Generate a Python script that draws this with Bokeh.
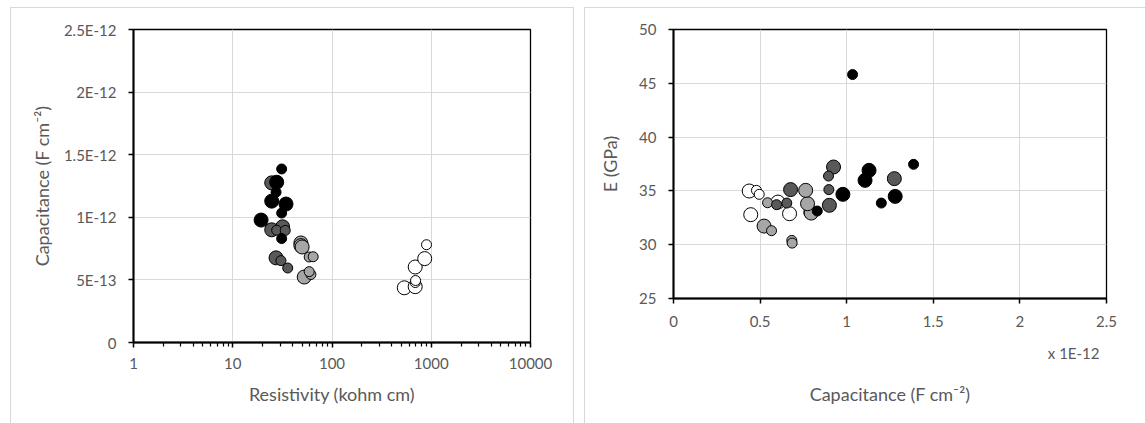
from bokeh.plotting import figure
from bokeh.models import FixedTicker, NumeralTickFormatter, Title
from bokeh.embed import file_html
from bokeh.resources import INLINE

# ---- data (capacitance in units of 1E-12 F cm^-2, resistivity kohm cm, E GPa) ----
# marker class: "L" = large marker series, "S" = small marker series
white_cap = [0.437, 0.446, 0.479, 0.495, 0.603, 0.670, 0.781]
white_res = [535, 689, 690, 695, 689, 859, 896]
white_E   = [34.99, 32.79, 35.05, 34.68, 33.96, 32.88, 33.0]
white_cls = ["L", "L", "S", "S", "L", "L", "S"]

light_cap = [0.795, 0.774, 0.763, 0.523, 0.543, 0.566, 0.683, 0.685]
light_res = [48.6, 48.6, 50.0, 52.5, 61.3, 58.9, 58.9, 64.6]
light_E   = [32.94, 33.81, 35.05, 31.73, 33.90, 31.30, 30.40, 30.15]
light_cls = ["L", "L", "L", "L", "S", "S", "S", "S"]

dark_cap = [1.275, 0.924, 0.900, 0.897, 0.895, 0.676, 0.654, 0.595]
dark_res = [24.7, 31.8, 24.7, 27.7, 33.8, 27.3, 30.6, 35.8]
dark_E   = [36.14, 37.22, 33.66, 35.12, 36.38, 35.12, 33.87, 33.72]
dark_cls = ["L", "L", "L", "S", "S", "L", "S", "S"]

black_cap = [1.386, 1.280, 1.200, 1.129, 1.106, 1.034, 0.978, 0.830]
black_res = [31.1, 27.7, 27.3, 24.7, 34.4, 31.1, 19.3, 31.1]
black_E   = [37.47, 34.49, 33.87, 36.91, 35.98, 45.81, 34.68, 33.13]
black_cls = ["S", "L", "S", "L", "L", "S", "L", "S"]

left_y_ticks = [0, 0.5, 1, 1.5, 2, 2.5]
left_y_labels = ["0", "5E-13", "1E-12", "1.5E-12", "2E-12", "2.5E-12"]
left_x_ticks = [1, 10, 100, 1000, 10000]
right_x_ticks = [0, 0.5, 1, 1.5, 2, 2.5]
right_y_ticks = [25, 30, 35, 40, 45, 50]

series = [
    ("#ffffff", white_cap, white_res, white_E, white_cls),
    ("#a6a6a6", light_cap, light_res, light_E, light_cls),
    ("#595959", dark_cap, dark_res, dark_E, dark_cls),
    ("#000000", black_cap, black_res, black_E, black_cls),
]
SIZE = {"L": 14, "S": 10}

FONT = "Lato"
GREY = "#595959"
GRID = "#d9d9d9"
FRAME = "1px solid #d9d9d9"
TICK_FS = "15px"
TITLE_FS = "18px"


def style(p):
    p.background_fill_color = "white"
    p.border_fill_color = "white"
    p.outline_line_color = "black"
    p.outline_line_width = 1.3
    for ax in (p.xaxis[0], p.yaxis[0]):
        ax.axis_line_color = "black"
        ax.axis_line_width = 2
        ax.major_tick_line_color = "black"
        ax.major_tick_line_width = 1.5
        ax.major_tick_in = 0
        ax.major_tick_out = 5
        ax.minor_tick_line_color = "black"
        ax.minor_tick_line_width = 1.2
        ax.minor_tick_in = 0
        ax.minor_tick_out = 4
        ax.major_label_text_font = FONT
        ax.major_label_text_font_size = TICK_FS
        ax.major_label_text_color = GREY
        ax.axis_label_text_font = FONT
        ax.axis_label_text_font_size = TITLE_FS
        ax.axis_label_text_color = GREY
        ax.axis_label_text_font_style = "normal"
    p.xgrid.grid_line_color = GRID
    p.ygrid.grid_line_color = GRID
    p.xgrid.grid_line_width = 1
    p.ygrid.grid_line_width = 1


# ---- left chart ----
p1 = figure(width=562, height=415, x_axis_type="log", x_range=(1, 10000), y_range=(0, 2.5),
            output_backend="svg", toolbar_location=None,
            min_border_left=122, min_border_right=43, min_border_top=21, min_border_bottom=81)
style(p1)
minor = [m * d for d in (1, 10, 100, 1000) for m in range(2, 10)]
p1.xaxis.ticker = FixedTicker(ticks=left_x_ticks, minor_ticks=minor)
p1.xaxis.formatter = NumeralTickFormatter(format="0")
p1.xaxis.major_label_standoff = 10
p1.xaxis.axis_label = "Resistivity (kohm cm)"
p1.xaxis.axis_label_standoff = 11
p1.yaxis.ticker = FixedTicker(ticks=left_y_ticks)
p1.yaxis.major_label_overrides = {t: l for t, l in zip(left_y_ticks, left_y_labels)}
p1.yaxis.minor_tick_line_color = None
p1.yaxis.major_label_standoff = 12
p1.yaxis.axis_label = "Capacitance (F cm\u207b\u00b2)"
p1.yaxis.axis_label_standoff = 8

for col, cap, res, E, cls in series:
    p1.scatter(res, cap, size=[SIZE[c] for c in cls], fill_color=col,
               line_color="black", line_width=1)

p1.styles = {"float": "left", "margin-left": "11px", "margin-top": "8px", "outline": FRAME}

# ---- right chart ----
p2 = figure(width=560, height=415, x_range=(0, 2.5), y_range=(25, 50),
            output_backend="svg", toolbar_location=None,
            min_border_left=88, min_border_right=39, min_border_top=21, min_border_bottom=125)
style(p2)
p2.xaxis.ticker = FixedTicker(ticks=right_x_ticks)
p2.xaxis.formatter = NumeralTickFormatter(format="0.[0]")
p2.xaxis.major_label_standoff = 12
p2.xaxis.minor_tick_line_color = None
p2.yaxis.ticker = FixedTicker(ticks=right_y_ticks)
p2.yaxis.minor_tick_line_color = None
p2.yaxis.major_label_standoff = 12
p2.yaxis.axis_label = "E (GPa)"
p2.yaxis.axis_label_standoff = 15

for col, cap, res, E, cls in series:
    p2.scatter(cap, E, size=[SIZE[c] for c in cls], fill_color=col,
               line_color="black", line_width=1)

p2.add_layout(Title(text="x 1E-12", align="right", offset=7, standoff=24, text_font=FONT,
                    text_font_size=TICK_FS, text_color=GREY, text_font_style="normal"), "below")
p2.add_layout(Title(text="Capacitance (F cm\u207b\u00b2)", align="center", standoff=14,
                    text_font=FONT, text_font_size=TITLE_FS, text_color=GREY,
                    text_font_style="normal"), "below")

p2.styles = {"float": "left", "margin-left": "12px", "margin-top": "8px", "outline": FRAME}

open("out.html", "w").write(file_html([p1, p2], INLINE))
